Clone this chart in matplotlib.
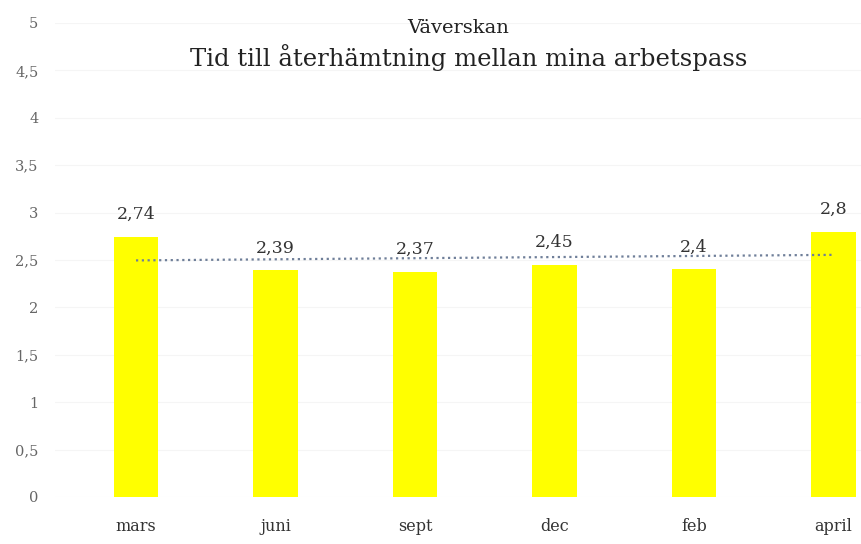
import numpy as np
import matplotlib
matplotlib.use("Agg")
import matplotlib.pyplot as plt

categories = ["mars", "juni", "sept", "dec", "feb", "april"]
values = [2.74, 2.39, 2.37, 2.45, 2.4, 2.8]
value_labels = ["2,74", "2,39", "2,37", "2,45", "2,4", "2,8"]
yticks = [0, 0.5, 1, 1.5, 2, 2.5, 3, 3.5, 4, 4.5, 5]
ytick_labels = ["0", "0,5", "1", "1,5", "2", "2,5", "3", "3,5", "4", "4,5", "5"]
title1 = "Väverskan"
title2 = "Tid till återhämtning mellan mina arbetspass"

W, H = 861, 544
fig = plt.figure(figsize=(W / 100, H / 100), dpi=100)
serif = ["DejaVu Serif"]

left_px, right_px = 55, 861
bottom_px, top_px = 497, 23
step_px = 139.5
first_px = 136
ax = fig.add_axes([left_px / W, (H - bottom_px) / H,
                   (right_px - left_px) / W, (bottom_px - top_px) / H])

x = np.arange(len(categories))
ax.bar(x, values, width=0.32, color="#ffff00", zorder=2)

# linear trend line
coef = np.polyfit(x, values, 1)
trend = np.polyval(coef, x)
ax.plot(x, trend, linestyle=(0, (1, 1.6)), color="#6f7f99", linewidth=1.6, zorder=3)

for xi, v, lab in zip(x, values, value_labels):
    ax.text(xi, v + 0.19, lab, ha="center", va="baseline", fontsize=12.5,
            family=serif, color="#333333")

x0 = (first_px - left_px) / step_px
ax.set_xlim(-x0, -x0 + (right_px - left_px) / step_px)
ax.set_ylim(0, 5)
ax.set_yticks(yticks)
ax.set_yticklabels(ytick_labels, family=serif, fontsize=10.5, color="#666666")
ax.set_xticks(x)
ax.set_xticklabels(categories, family=serif, fontsize=11.5, color="#333333")
ax.tick_params(axis="y", length=0, pad=12)
ax.tick_params(axis="x", length=0, pad=15)
for s in ax.spines.values():
    s.set_visible(False)
ax.yaxis.grid(True, color="#f5f5f5", linewidth=0.8, zorder=0)
ax.set_axisbelow(True)

fig.text(458 / W, 1 - 33 / H, title1, ha="center", va="baseline", fontsize=14,
         family=serif, color="#222222")
fig.text(469 / W, 1 - 66 / H, title2, ha="center", va="baseline", fontsize=17.5,
         family=serif, color="#222222")

fig.savefig("out.png", dpi=100, facecolor="white")
